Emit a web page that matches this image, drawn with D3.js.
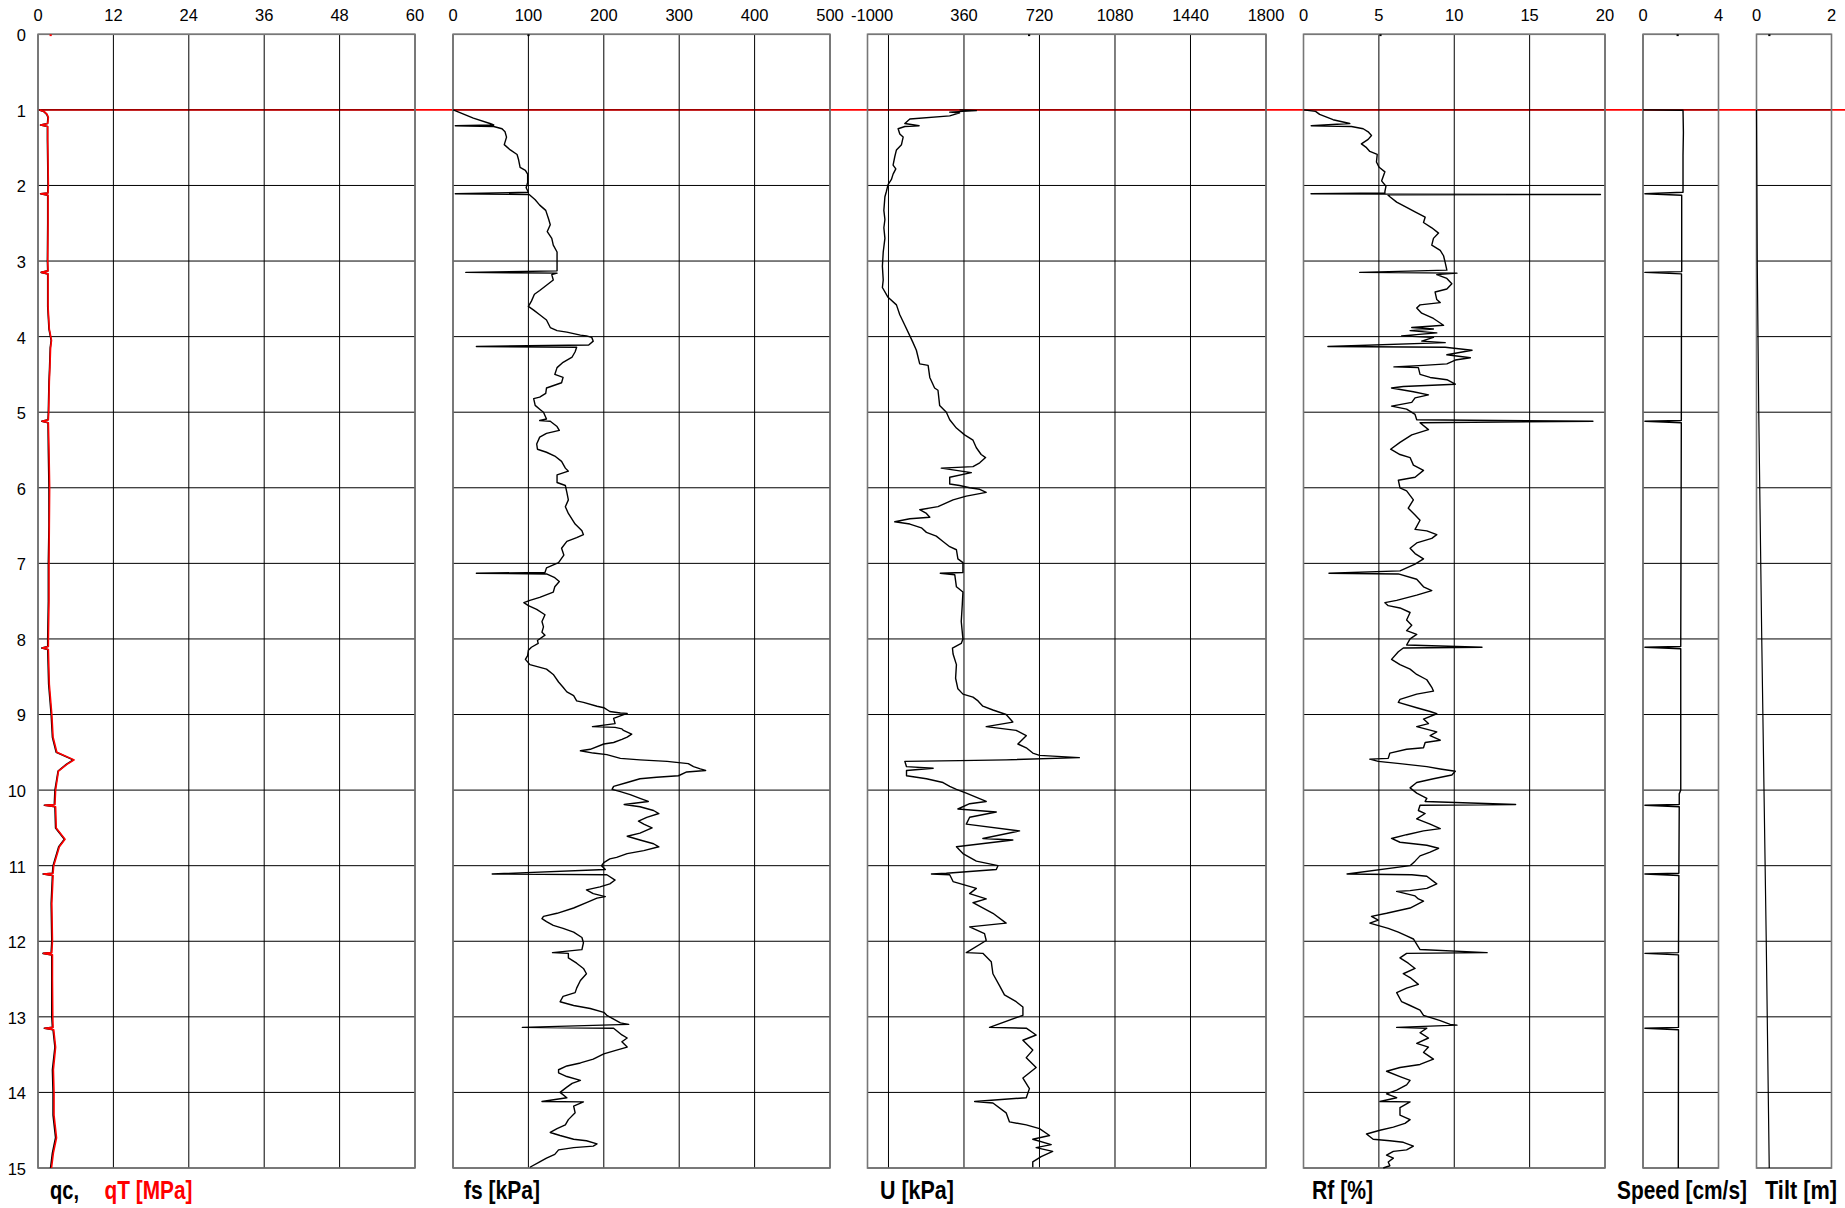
<!DOCTYPE html>
<html><head><meta charset="utf-8">
<script src="https://cdn.jsdelivr.net/npm/d3@7"></script>
<style>
body{margin:0;background:#fff}
svg{display:block}
text{font-family:"Liberation Sans",Arial,sans-serif}
</style>
</head><body>
<svg id="chart" width="1845" height="1208"></svg>
<script>
// ---------------- DATA ----------------
const depthTicks = [0,1,2,3,4,5,6,7,8,9,10,11,12,13,14,15];
const qcTicks = [0,12,24,36,48,60];
const fsTicks = [0,100,200,300,400,500];
const uTicks = [-100,0,360,720,1080,1440,1800];
const rfTicks = [0,5,10,15,20];
const speedTicks = [0,4];
const tiltTicks = [0,2];

// [depth m, value]
const qcData = [[1.0,0.2],[1.02,0.9],[1.06,1.4],[1.1,1.6],[1.18,1.5],[1.2,0.4],[1.22,1.5],[1.4,1.5],[1.7,1.55],[2.0,1.6],[2.1,1.55],[2.11,0.4],[2.13,1.55],[2.5,1.55],[3.0,1.5],[3.13,1.55],[3.15,0.5],[3.17,1.55],[3.6,1.55],[3.9,1.75],[4.05,2.1],[4.15,1.95],[4.4,1.85],[4.6,1.75],[5.0,1.65],[5.1,1.6],[5.12,0.6],[5.14,1.6],[5.5,1.65],[6.0,1.75],[6.5,1.75],[7.0,1.65],[7.5,1.65],[8.0,1.55],[8.1,1.55],[8.12,0.6],[8.14,1.55],[8.6,1.7],[9.0,2.1],[9.3,2.3],[9.5,2.9],[9.6,5.6],[9.66,4.5],[9.75,3.2],[10.0,2.7],[10.19,2.6],[10.2,1.0],[10.22,2.7],[10.5,2.8],[10.65,4.2],[10.75,3.3],[11.0,2.4],[11.1,2.3],[11.11,0.8],[11.13,2.3],[11.5,2.1],[12.0,2.2],[12.15,2.1],[12.16,0.8],[12.18,2.2],[12.5,2.2],[13.0,2.2],[13.14,2.3],[13.15,1.0],[13.17,2.4],[13.4,2.7],[13.7,2.3],[14.0,2.4],[14.3,2.4],[14.6,2.8],[14.8,2.3],[15.0,2.0]];
const qtData = [[1.0,0.25],[1.02,0.95],[1.06,1.45],[1.1,1.65],[1.18,1.55],[1.2,0.45],[1.22,1.55],[1.4,1.55],[1.7,1.6],[2.0,1.65],[2.1,1.6],[2.11,0.45],[2.13,1.6],[2.5,1.6],[3.0,1.55],[3.13,1.6],[3.15,0.55],[3.17,1.6],[3.6,1.6],[3.9,1.8],[4.05,2.15],[4.15,2.0],[4.4,1.9],[4.6,1.8],[5.0,1.7],[5.1,1.65],[5.12,0.65],[5.14,1.65],[5.5,1.75],[6.0,1.85],[6.5,1.8],[7.0,1.75],[7.5,1.75],[8.0,1.65],[8.1,1.65],[8.12,0.7],[8.14,1.65],[8.6,1.8],[9.0,2.2],[9.3,2.4],[9.5,3.0],[9.6,5.75],[9.66,4.6],[9.75,3.25],[10.0,2.8],[10.19,2.7],[10.2,1.1],[10.22,2.8],[10.5,2.9],[10.65,4.3],[10.75,3.4],[11.0,2.5],[11.1,2.4],[11.11,0.9],[11.13,2.4],[11.5,2.2],[12.0,2.3],[12.15,2.2],[12.16,0.9],[12.18,2.3],[12.5,2.3],[13.0,2.35],[13.14,2.4],[13.15,1.1],[13.17,2.5],[13.4,2.8],[13.7,2.45],[14.0,2.55],[14.3,2.55],[14.6,2.95],[14.8,2.45],[15.0,2.15]];

const fsData = [[1.0,0],[1.01,2.7],[1.11,27],[1.18,49],[1.20,54],[1.21,3],[1.22,54],[1.25,65],[1.29,69],[1.36,71],[1.46,68],[1.53,76],[1.59,85],[1.66,87],[1.76,89],[1.80,96],[1.85,99],[1.96,99],[2.03,97],[2.09,100],[2.11,3],[2.12,101],[2.19,109],[2.26,115],[2.33,123],[2.45,127],[2.52,129],[2.61,125],[2.70,131],[2.79,133],[2.88,138],[3.0,138],[3.13,138],[3.15,17],[3.16,138],[3.18,131],[3.25,133],[3.32,124],[3.39,115],[3.44,108],[3.53,104],[3.60,100],[3.65,107],[3.71,115],[3.78,124],[3.88,129],[3.92,138],[3.94,151],[3.98,169],[3.99,177],[4.01,184],[4.06,186],[4.11,180],[4.13,31],[4.14,164],[4.20,162],[4.27,158],[4.34,146],[4.41,138],[4.50,135],[4.54,146],[4.61,144],[4.68,124],[4.75,123],[4.80,115],[4.82,107],[4.91,109],[4.96,115],[5.0,120],[5.09,124],[5.11,115],[5.12,129],[5.19,138],[5.24,141],[5.28,124],[5.33,115],[5.42,111],[5.49,112],[5.53,124],[5.58,135],[5.65,144],[5.74,149],[5.78,153],[5.83,138],[5.93,138],[5.97,149],[6.06,151],[6.16,153],[6.25,149],[6.34,153],[6.48,162],[6.57,171],[6.62,173],[6.66,164],[6.71,151],[6.80,144],[6.89,147],[6.99,140],[7.06,124],[7.12,122],[7.13,31],[7.14,124],[7.19,135],[7.24,141],[7.31,135],[7.38,133],[7.45,115],[7.49,102],[7.52,94],[7.56,100],[7.61,111],[7.68,122],[7.77,118],[7.84,120],[7.91,118],[7.95,122],[8.02,112],[8.06,113],[8.11,104],[8.15,100],[8.22,99],[8.27,96],[8.34,102],[8.40,124],[8.47,133],[8.57,140],[8.64,146],[8.70,151],[8.75,160],[8.82,164],[8.84,173],[8.89,191],[8.91,200],[8.96,208],[8.98,222],[8.985,231],[9.05,213],[9.12,215],[9.16,185],[9.17,215],[9.19,224],[9.21,226],[9.26,237],[9.30,231],[9.33,224],[9.37,213],[9.39,200],[9.46,182],[9.48,169],[9.51,186],[9.53,204],[9.58,222],[9.60,248],[9.62,284],[9.65,312],[9.69,319],[9.72,328],[9.74,335],[9.76,310],[9.81,299],[9.83,270],[9.85,248],[9.90,231],[9.95,213],[9.99,211],[10.02,222],[10.06,235],[10.11,248],[10.15,259],[10.19,227],[10.22,248],[10.27,266],[10.31,273],[10.36,257],[10.41,246],[10.45,253],[10.50,264],[10.57,248],[10.61,231],[10.66,248],[10.71,266],[10.75,273],[10.80,253],[10.84,231],[10.89,217],[10.91,208],[10.96,200],[11.0,197],[11.05,202],[11.11,52],[11.12,204],[11.19,215],[11.24,208],[11.28,195],[11.32,177],[11.37,186],[11.41,202],[11.43,191],[11.49,177],[11.56,160],[11.63,138],[11.67,120],[11.70,118],[11.74,124],[11.79,133],[11.83,146],[11.88,160],[11.95,171],[12.02,173],[12.11,171],[12.15,132],[12.16,153],[12.22,153],[12.29,164],[12.36,173],[12.43,177],[12.52,169],[12.62,164],[12.68,162],[12.73,146],[12.80,142],[12.85,160],[12.89,182],[12.94,200],[12.98,204],[13.08,222],[13.10,233],[13.14,92],[13.15,213],[13.24,224],[13.28,231],[13.33,224],[13.40,231],[13.44,217],[13.49,200],[13.56,186],[13.61,169],[13.65,151],[13.70,140],[13.74,140],[13.79,151],[13.84,169],[13.88,158],[13.93,151],[14.0,142],[14.07,151],[14.12,118],[14.125,173],[14.18,160],[14.27,162],[14.36,153],[14.43,149],[14.48,138],[14.53,129],[14.57,142],[14.62,160],[14.64,177],[14.68,191],[14.71,186],[14.73,160],[14.76,140],[14.82,135],[14.87,124],[14.92,115],[14.99,102]];

const uData = [[1.0,339],[1.01,419],[1.03,292],[1.04,339],[1.08,292],[1.12,102],[1.18,78],[1.21,146],[1.22,78],[1.25,46],[1.32,54],[1.36,70],[1.46,62],[1.53,38],[1.62,30],[1.73,22],[1.78,35],[1.85,22],[1.92,14],[1.99,-2],[2.08,-10],[2.15,-17],[2.33,-22],[2.45,-17],[2.56,-22],[2.70,-17],[2.88,-25],[3.07,-29],[3.25,-25],[3.35,-29],[3.48,-2],[3.58,38],[3.71,54],[3.85,78],[3.99,102],[4.08,117],[4.18,133],[4.36,149],[4.38,189],[4.54,197],[4.68,220],[4.71,236],[4.91,244],[5.0,276],[5.10,292],[5.21,324],[5.30,363],[5.37,403],[5.47,419],[5.56,442],[5.60,463],[5.67,435],[5.72,403],[5.74,252],[5.80,395],[5.86,292],[5.95,292],[5.97,339],[6.0,387],[6.02,435],[6.06,466],[6.11,371],[6.16,308],[6.23,252],[6.25,236],[6.29,149],[6.34,181],[6.39,197],[6.41,102],[6.45,30],[6.48,102],[6.53,157],[6.59,181],[6.64,228],[6.71,260],[6.78,292],[6.82,324],[6.94,331],[6.99,355],[7.12,355],[7.13,247],[7.15,316],[7.31,324],[7.38,355],[7.54,352],[7.77,347],[8.0,355],[8.06,347],[8.12,305],[8.20,308],[8.34,324],[8.52,320],[8.66,331],[8.73,355],[8.77,403],[8.82,427],[8.89,450],[8.94,498],[9.0,561],[9.10,593],[9.16,466],[9.21,609],[9.28,657],[9.39,617],[9.44,657],[9.51,688],[9.54,720],[9.57,910],[9.60,561],[9.61,339],[9.62,78],[9.69,86],[9.71,213],[9.74,86],[9.81,86],[9.85,181],[9.90,260],[9.95,292],[9.99,324],[10.04,371],[10.15,466],[10.18,387],[10.25,331],[10.29,514],[10.36,387],[10.45,371],[10.54,625],[10.64,450],[10.66,593],[10.75,324],[10.84,355],[10.94,419],[11.0,522],[11.05,514],[11.10,276],[11.11,205],[11.12,292],[11.21,308],[11.30,419],[11.37,387],[11.44,466],[11.49,403],[11.63,498],[11.76,561],[11.81,387],[11.90,458],[11.99,466],[12.15,371],[12.16,450],[12.27,490],[12.43,498],[12.59,530],[12.71,553],[12.80,609],[12.87,641],[12.98,641],[13.14,482],[13.15,657],[13.24,704],[13.31,641],[13.44,688],[13.54,657],[13.67,704],[13.81,641],[13.95,672],[14.07,657],[14.12,411],[14.14,498],[14.27,561],[14.39,577],[14.43,657],[14.48,720],[14.57,768],[14.62,688],[14.69,776],[14.73,704],[14.78,783],[14.85,728],[14.92,688],[14.99,688]];

const rfData = [[1.0,0],[1.02,0.80],[1.06,1.07],[1.13,1.96],[1.18,3.07],[1.21,0.51],[1.22,3.18],[1.25,3.96],[1.29,4.29],[1.34,4.51],[1.39,4.29],[1.45,3.84],[1.50,4.18],[1.55,4.40],[1.59,4.89],[1.69,4.84],[1.76,5.02],[1.82,5.40],[1.94,5.18],[2.01,5.47],[2.08,5.40],[2.10,5.4],[2.11,0.5],[2.115,5.5],[2.12,19.7],[2.125,5.6],[2.15,5.73],[2.22,6.18],[2.29,6.84],[2.35,7.40],[2.42,8.07],[2.49,7.96],[2.56,8.51],[2.63,8.96],[2.70,8.62],[2.79,8.51],[2.86,9.07],[2.93,9.29],[3.02,9.40],[3.12,9.51],[3.15,3.73],[3.16,10.18],[3.18,8.84],[3.23,9.51],[3.30,9.84],[3.37,9.51],[3.41,8.73],[3.51,8.84],[3.55,9.07],[3.58,7.73],[3.62,7.51],[3.69,7.84],[3.76,8.62],[3.85,9.29],[3.88,7.18],[3.90,8.62],[3.92,7.07],[3.95,8.84],[3.99,6.51],[4.01,8.62],[4.06,7.84],[4.08,9.40],[4.13,1.62],[4.14,9.40],[4.18,11.18],[4.24,9.51],[4.28,11.07],[4.31,10.07],[4.36,9.51],[4.38,7.96],[4.40,6.0],[4.41,7.62],[4.50,7.73],[4.54,8.40],[4.57,9.51],[4.63,10.07],[4.66,6.62],[4.68,5.84],[4.73,7.29],[4.77,8.29],[4.81,7.40],[4.87,7.18],[4.92,5.84],[4.96,6.84],[5.03,7.40],[5.10,7.51],[5.12,19.2],[5.14,7.73],[5.23,8.29],[5.30,7.18],[5.40,6.40],[5.49,5.78],[5.56,6.40],[5.60,7.07],[5.70,7.29],[5.77,7.96],[5.86,7.40],[5.90,6.29],[6.0,6.40],[6.04,6.84],[6.16,7.29],[6.27,6.95],[6.36,7.40],[6.43,7.73],[6.55,7.40],[6.57,8.18],[6.62,8.84],[6.67,8.51],[6.73,7.51],[6.80,7.07],[6.87,7.40],[6.94,7.96],[7.01,7.40],[7.10,6.40],[7.13,1.69],[7.14,6.29],[7.21,7.51],[7.31,7.96],[7.36,8.51],[7.42,7.51],[7.49,6.18],[7.52,5.40],[7.56,5.62],[7.59,6.40],[7.65,7.07],[7.75,6.84],[7.82,7.18],[7.89,6.84],[7.94,7.51],[8.0,7.07],[8.08,6.84],[8.11,11.84],[8.12,6.62],[8.17,6.29],[8.27,5.84],[8.34,6.40],[8.40,7.07],[8.47,7.51],[8.54,8.18],[8.64,8.51],[8.69,8.62],[8.73,7.51],[8.80,6.40],[8.84,6.29],[8.91,7.51],[8.96,8.40],[8.99,8.84],[9.06,7.96],[9.12,8.29],[9.16,7.51],[9.23,8.84],[9.28,8.40],[9.34,9.07],[9.37,8.07],[9.44,7.96],[9.46,6.84],[9.51,5.73],[9.58,5.62],[9.59,4.40],[9.62,4.96],[9.65,6.40],[9.69,8.18],[9.72,9.07],[9.75,10.07],[9.80,9.84],[9.85,8.62],[9.90,7.51],[9.97,7.07],[10.04,7.51],[10.11,8.18],[10.15,8.07],[10.19,14.07],[10.20,7.73],[10.27,7.62],[10.31,8.07],[10.38,7.51],[10.45,8.40],[10.51,9.07],[10.54,7.96],[10.59,6.84],[10.64,5.84],[10.69,6.40],[10.73,8.18],[10.77,8.96],[10.82,8.40],[10.87,7.73],[10.94,7.40],[11.0,7.07],[11.11,2.89],[11.12,7.18],[11.14,8.18],[11.24,8.84],[11.30,8.18],[11.33,7.07],[11.34,6.18],[11.40,7.40],[11.44,7.62],[11.47,7.96],[11.56,7.07],[11.63,5.51],[11.67,4.51],[11.72,4.96],[11.76,4.40],[11.83,5.62],[11.88,6.29],[11.93,6.84],[11.97,7.29],[12.11,7.73],[12.15,12.18],[12.16,6.84],[12.22,6.40],[12.29,6.95],[12.36,7.40],[12.43,6.62],[12.48,7.07],[12.57,7.62],[12.62,6.84],[12.68,6.18],[12.80,6.51],[12.85,7.07],[12.91,7.73],[12.98,7.96],[13.05,9.07],[13.10,9.73],[13.11,10.18],[13.14,6.18],[13.15,8.18],[13.21,7.73],[13.28,8.29],[13.35,7.51],[13.40,8.29],[13.47,7.96],[13.56,8.62],[13.63,7.73],[13.67,6.40],[13.72,5.51],[13.79,6.40],[13.84,7.07],[13.90,6.84],[13.97,6.18],[14.02,5.51],[14.07,6.18],[14.12,5.07],[14.125,7.07],[14.20,6.40],[14.30,6.40],[14.36,7.07],[14.41,6.73],[14.46,5.96],[14.50,5.07],[14.55,4.18],[14.62,4.62],[14.64,5.73],[14.66,6.62],[14.71,7.29],[14.76,6.84],[14.78,5.96],[14.83,5.51],[14.87,5.96],[14.92,5.62],[14.97,5.73],[15.0,5.29]];

const speedData = [[1.0,0],[1.005,2.12],[1.3,2.14],[1.6,2.12],[2.09,2.12],[2.11,0.1],[2.13,2.05],[3.14,2.05],[3.15,0.1],[3.17,2.04],[5.11,2.03],[5.12,0.1],[5.14,2.03],[8.1,2.0],[8.11,0.1],[8.13,2.0],[10.0,2.0],[10.05,1.92],[10.19,1.92],[10.2,0.1],[10.22,1.92],[11.1,1.9],[11.11,0.1],[11.13,1.9],[12.15,1.88],[12.16,0.1],[12.18,1.88],[13.14,1.88],[13.15,0.1],[13.17,1.88],[15.0,1.87]];
const tiltData = [[1.0,0],[3.0,0.02],[5.0,0.06],[8.0,0.14],[10.0,0.2],[12.0,0.26],[15.0,0.34]];

// first reading (depth 0) marks
const topMarks = [["qc",2.0],["fs",100],["u",670],["rf",5.1],["speed",1.83],["tilt",0.34]];
const predrillDepth = 1.0;

// ---------------- LAYOUT ----------------
const svg = d3.select("#chart");
const W = 1845;
const y = d3.scaleLinear().domain([0,15]).range([34.3,1168]);

const panels = [
  {key:"qc", domain:[0,60], ticks:qcTicks, range:[38,415]},
  {key:"fs", domain:[0,500], ticks:fsTicks, range:[453,830]},
  {key:"u", domain:[-100,1800], ticks:uTicks, range:[867.5,1266]},
  {key:"rf", domain:[0,20], ticks:rfTicks, range:[1303.5,1605]},
  {key:"speed", domain:[0,4], ticks:speedTicks, range:[1643,1718.5]},
  {key:"tilt", domain:[0,2], ticks:tiltTicks, range:[1756.5,1831.5]}
];
panels.forEach(p => p.x = d3.scaleLinear().domain(p.domain).range(p.range));
const P = Object.fromEntries(panels.map(p=>[p.key,p]));

svg.append("rect").attr("width",W).attr("height",1208).attr("fill","#fff");

// red predrill line across
svg.append("line")
  .attr("x1",38).attr("x2",W)
  .attr("y1",y(predrillDepth)).attr("y2",y(predrillDepth))
  .attr("stroke","#ff0000").attr("stroke-width",1.6);

// panels: grid, border, tick labels
panels.forEach(p => {
  const g = svg.append("g");
  const [x0,x1] = p.range;
  g.selectAll("line.v").data(p.ticks).join("line")
    .attr("x1",d=>p.x(d)).attr("x2",d=>p.x(d))
    .attr("y1",y(0)).attr("y2",y(15))
    .attr("stroke","#000").attr("stroke-width",1);
  g.selectAll("line.h").data(depthTicks).join("line")
    .attr("x1",x0).attr("x2",x1)
    .attr("y1",d=>y(d)).attr("y2",d=>y(d))
    .attr("stroke",d=>d===predrillDepth?"#600":"#000").attr("stroke-width",1);
  g.append("rect").attr("x",x0).attr("y",y(0)).attr("width",x1-x0).attr("height",y(15)-y(0))
    .attr("fill","none").attr("stroke","#777").attr("stroke-width",1.6);
  g.selectAll("text").data(p.ticks).join("text")
    .attr("x",d=>p.x(d)).attr("y",21)
    .attr("text-anchor","middle").attr("font-size",16.5).attr("fill","#000")
    .text(d=>d);
});

// depth labels
svg.append("g").selectAll("text").data(depthTicks).join("text")
  .attr("x",26).attr("y",d=>y(d)+6.9)
  .attr("text-anchor","end").attr("font-size",16.5).text(d=>d);

// curves
function curve(p, data, color, w){
  const line = d3.line().x(d=>p.x(d[1])).y(d=>y(d[0]));
  svg.append("path").datum(data).attr("d",line)
    .attr("fill","none").attr("stroke",color).attr("stroke-width",w)
    .attr("stroke-linejoin","round");
}
curve(P.qc, qcData, "#000", 1.6);
curve(P.qc, qtData, "#ff0000", 1.6);
curve(P.fs, fsData, "#000", 1.4);
curve(P.u, uData, "#000", 1.4);
curve(P.rf, rfData, "#000", 1.4);
curve(P.speed, speedData, "#000", 1.4);
curve(P.tilt, tiltData, "#000", 1.2);

// depth-0 marks
svg.append("g").selectAll("rect").data(topMarks).join("rect")
  .attr("x",d=>P[d[0]].x(d[1])-1).attr("y",y(0))
  .attr("width",2.2).attr("height",1.8)
  .attr("fill",d=>d[0]==="qc"?"#f00":"#000");

// bottom labels (condensed bold, scaled horizontally to the reference widths)
const labels = [
  {t:"qc,", x:50, w:29, c:"#000"},
  {t:"qT [MPa]", x:104.5, w:88, c:"#ff0000"},
  {t:"fs [kPa]", x:464, w:76, c:"#000"},
  {t:"U [kPa]", x:880, w:74, c:"#000"},
  {t:"Rf [%]", x:1312, w:61, c:"#000"},
  {t:"Speed [cm/s]", x:1617, w:130, c:"#000"},
  {t:"Tilt [m]", x:1765, w:72, c:"#000"}
];
const lab = svg.append("g").selectAll("text").data(labels).join("text")
  .attr("x",0).attr("y",0)
  .attr("font-size",26).attr("font-weight","bold")
  .attr("fill",d=>d.c)
  .text(d=>d.t);
lab.each(function(d){
  const nat = this.getComputedTextLength();
  const s = d.w / nat;
  d3.select(this).attr("transform",`translate(${d.x},1199) scale(${s},1)`);
});
</script>
</body></html>
